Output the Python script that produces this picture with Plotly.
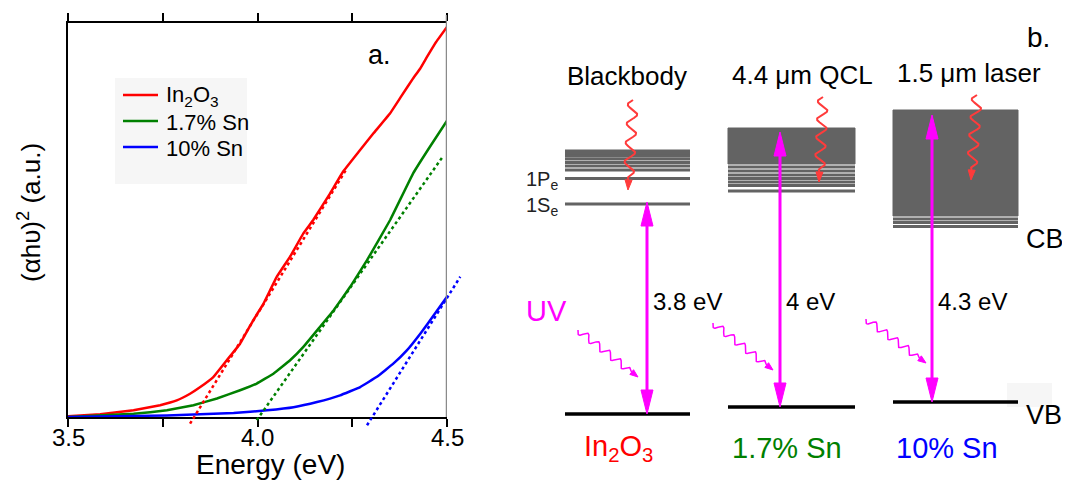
import numpy as np
import plotly.graph_objects as go

FONT = "Liberation Sans, Arial, sans-serif"
W, H = 1070, 480
OFF = 8  # page body margin offset of the plot div inside the browser window

# ---------------- Panel a data ----------------
energy_in2o3 = [3.50, 3.585, 3.673, 3.743, 3.787, 3.822, 3.849, 3.884, 3.919, 3.954, 3.989,
                4.016, 4.051, 4.086, 4.121, 4.147, 4.190, 4.226, 4.266, 4.306, 4.350,
                4.380, 4.411, 4.429, 4.446, 4.470, 4.5]
signal_in2o3 = [0.002, 0.007, 0.017, 0.030, 0.042, 0.059, 0.076, 0.102, 0.144, 0.186, 0.246,
                0.288, 0.356, 0.407, 0.466, 0.500, 0.565, 0.623, 0.672, 0.720, 0.771,
                0.815, 0.860, 0.884, 0.912, 0.950, 0.990]

energy_sn17 = [3.50, 3.673, 3.761, 3.831, 3.893, 3.954, 3.998, 4.042, 4.086, 4.121, 4.165,
               4.201, 4.245, 4.289, 4.350, 4.411, 4.455, 4.5]
signal_sn17 = [0.0, 0.008, 0.017, 0.030, 0.047, 0.068, 0.085, 0.110, 0.144, 0.178, 0.229,
               0.271, 0.331, 0.398, 0.500, 0.619, 0.686, 0.752]

energy_sn10 = [3.50, 3.761, 3.937, 4.025, 4.095, 4.157, 4.218, 4.271, 4.315, 4.359, 4.394,
               4.430, 4.465, 4.5]
signal_sn10 = [0.0, 0.004, 0.010, 0.017, 0.025, 0.038, 0.055, 0.076, 0.102, 0.136, 0.169,
               0.212, 0.258, 0.305]

# linear (Tauc) fits: end points
fit_energy_in2o3 = [3.822, 4.236]
fit_signal_in2o3 = [-0.017, 0.631]
fit_energy_sn17 = [3.998, 4.489]
fit_signal_sn17 = [-0.008, 0.661]
fit_energy_sn10 = [4.289, 4.535]
fit_signal_sn10 = [-0.021, 0.356]

series_names = ["In<sub>2</sub>O<sub>3</sub>", "1.7% Sn", "10% Sn"]
series_colors = ["#ff0000", "#008000", "#0000ff"]

x_tickvals = [3.5, 3.75, 4.0, 4.25, 4.5]
x_labelvals = [3.5, 4.0, 4.5]
x_labeltext = ["3.5", "4.0", "4.5"]

# ---------------- Panel b schematic data (window pixel units) ----------------
col_x0 = [565, 728, 893]
col_x1 = [690, 855, 1018]
vb_level = [414, 407, 402]
gap_arrow_x = [647, 780, 932]
gap_arrow_top = [202, 132, 115]
gap_labels = ["3.8 eV", "4 eV", "4.3 eV"]
sample_labels = ["In<sub>2</sub>O<sub>3</sub>", "1.7% Sn", "10% Sn"]
sample_label_x = [618, 787, 947]
source_labels = ["Blackbody", "4.4 \u03bcm QCL", "1.5 \u03bcm laser"]
source_label_x = [627, 802, 969]
source_label_y = [76, 75, 73]

cb_lines_in2o3 = [151, 153.5, 156, 159, 162.5, 166, 170, 178.5]
level_1se = 204
cb_box = [(128, 164), (110, 216)]          # filled continuum for col 2, 3
cb_lines_sn17 = [167, 171, 175, 178.5, 182, 185.5, 191]
cb_lines_sn10 = [219, 222.5, 226.5]

ir_start = [(633, 100), (823, 97), (977, 95)]
ir_end = [(628, 190), (819, 182), (971, 180)]
uv_start = [(578, 330), (713, 323), (866, 319)]
uv_end = [(638, 377), (773, 370), (926, 363)]

GRAY = "#636363"
MAG = "#ff00ff"
IRRED = "#ff3b3b"


def fx(p):
    return (p - OFF) / W


def fy(p):
    return 1 - (p - OFF) / H


fig = go.Figure()

# ---- panel a traces
energies = [energy_in2o3, energy_sn17, energy_sn10]
signals = [signal_in2o3, signal_sn17, signal_sn10]
fit_e = [fit_energy_in2o3, fit_energy_sn17, fit_energy_sn10]
fit_s = [fit_signal_in2o3, fit_signal_sn17, fit_signal_sn10]
for fe, fs, c in zip(fit_e, fit_s, series_colors):
    fig.add_trace(go.Scatter(x=fe, y=fs, mode="lines", xaxis="x3", yaxis="y3",
                             line=dict(color=c, width=2.5, dash="dot"),
                             showlegend=False, hoverinfo="skip"))
for e, s, n, c in zip(energies, signals, series_names, series_colors):
    fig.add_trace(go.Scatter(x=e, y=s, mode="lines", name=n, xaxis="x", yaxis="y",
                             showlegend=False,
                             line=dict(color=c, width=2.5, shape="spline", smoothing=0.2)))
# invisible trace on the top axis so it renders
fig.add_trace(go.Scatter(x=[3.5, 4.5], y=[0, 0], xaxis="x2", yaxis="y", mode="lines",
                         line=dict(width=0), showlegend=False, hoverinfo="skip"))


# ---- panel b helpers
def add_line(xs, ys, color, width):
    fig.add_trace(go.Scatter(x=xs, y=ys, mode="lines", xaxis="x4", yaxis="y4",
                             line=dict(color=color, width=width), showlegend=False,
                             hoverinfo="skip"))


def add_head(tip, base_from, length, width, color):
    tx, ty = tip
    dx, dy = tx - base_from[0], ty - base_from[1]
    L = np.hypot(dx, dy)
    ux, uy = dx / L, dy / L
    bx, by = tx - ux * length, ty - uy * length
    nx, ny = -uy, ux
    xs = [tx, bx + nx * width / 2, bx - nx * width / 2, tx]
    ys = [ty, by + ny * width / 2, by - ny * width / 2, ty]
    fig.add_trace(go.Scatter(x=xs, y=ys, mode="lines", fill="toself", fillcolor=color,
                             xaxis="x4", yaxis="y4", line=dict(color=color, width=1),
                             showlegend=False, hoverinfo="skip"))


def add_wavy(p0, p1, periods, amp, color, width, head_len, head_w):
    t = np.linspace(0, 1, 300)
    dx, dy = p1[0] - p0[0], p1[1] - p0[1]
    L = np.hypot(dx, dy)
    nx, ny = -dy / L, dx / L
    stop = 1 - head_len / L
    tt = t * stop
    env = np.clip((stop - tt) / 0.08, 0, 1)
    off = amp * np.sin(2 * np.pi * periods * tt / stop) * env
    xs = p0[0] + dx * tt + nx * off
    ys = p0[1] + dy * tt + ny * off
    add_line(list(xs), list(ys), color, width)
    add_head(p1, (p0[0], p0[1]), head_len, head_w, color)


# conduction band levels
for y in cb_lines_in2o3 + [level_1se]:
    add_line([col_x0[0], col_x1[0]], [y, y], GRAY, 3)
for (top, bot), i in zip(cb_box, [1, 2]):
    fig.add_trace(go.Scatter(x=[col_x0[i], col_x1[i], col_x1[i], col_x0[i], col_x0[i]],
                             y=[top, top, bot, bot, top], mode="lines", fill="toself",
                             fillcolor=GRAY, line=dict(color=GRAY, width=1),
                             xaxis="x4", yaxis="y4", showlegend=False, hoverinfo="skip"))
for y in cb_lines_sn17:
    add_line([col_x0[1], col_x1[1]], [y, y], GRAY, 3)
for y in cb_lines_sn10:
    add_line([col_x0[2], col_x1[2]], [y, y], GRAY, 3)

# valence band
for i in range(3):
    add_line([col_x0[i], col_x1[i]], [vb_level[i], vb_level[i]], "#000000", 3.5)

# gap arrows
for i in range(3):
    add_line([gap_arrow_x[i], gap_arrow_x[i]], [gap_arrow_top[i] + 5, vb_level[i] - 5], MAG, 3)
    add_head((gap_arrow_x[i], gap_arrow_top[i]), (gap_arrow_x[i], vb_level[i]), 24, 12, MAG)
    add_head((gap_arrow_x[i], vb_level[i]), (gap_arrow_x[i], gap_arrow_top[i]), 24, 12, MAG)

# IR wavy arrows
for p0, p1 in zip(ir_start, ir_end):
    add_wavy(p0, p1, 4.2, 5, IRRED, 2, 10, 7)
# UV wavy arrows
for p0, p1 in zip(uv_start, uv_end):
    add_wavy(p0, p1, 5, 3.5, MAG, 1.5, 8, 6)

# ---------------- layout ----------------
ax_l, ax_r = 68, 447
ax_t, ax_b = 23, 417
ppu_x = (ax_r - ax_l) / 1.0
ppu_y = (ax_b - ax_t) / 1.0
fit_r = 462
fit_b = 427
b_dom0 = 0.44

fig.update_layout(
    width=W, height=H, autosize=False,
    margin=dict(l=0, r=0, t=0, b=0, pad=0, autoexpand=False),
    paper_bgcolor="white", plot_bgcolor="rgba(0,0,0,0)",
    font=dict(family=FONT, color="black"),
    showlegend=False,
    xaxis=dict(domain=[fx(ax_l), fx(ax_r)], range=[3.5, 4.5], anchor="y",
               tickvals=x_tickvals, showticklabels=False, ticks="outside", ticklen=8,
               tickwidth=2, tickcolor="black", showline=True, linecolor="black",
               linewidth=2, showgrid=False, zeroline=False, automargin=False),
    xaxis2=dict(overlaying="x", side="top", range=[3.5, 4.5], anchor="y",
                tickvals=x_tickvals, ticks="outside", ticklen=8, tickwidth=2,
                tickcolor="black", showticklabels=False, showline=True,
                linecolor="black", linewidth=2, showgrid=False, zeroline=False,
                automargin=False),
    yaxis=dict(domain=[fy(ax_b), fy(ax_t)], range=[0, 1.0], anchor="x",
               showline=True, linecolor="black", linewidth=2, showticklabels=False,
               ticks="", showgrid=False, zeroline=False, automargin=False),
    xaxis3=dict(domain=[fx(ax_l), fx(fit_r)],
                range=[3.5, 3.5 + (fit_r - ax_l) / ppu_x], anchor="y3",
                visible=False, showgrid=False, zeroline=False, automargin=False),
    yaxis3=dict(domain=[fy(fit_b), fy(ax_t)],
                range=[-(fit_b - ax_b) / ppu_y, 1.0], anchor="x3",
                visible=False, showgrid=False, zeroline=False, automargin=False),
    xaxis4=dict(domain=[b_dom0, 1], range=[OFF + b_dom0 * W, OFF + W], anchor="y4",
                visible=False, showgrid=False, zeroline=False, automargin=False),
    yaxis4=dict(domain=[0, 1], range=[OFF + H, OFF], anchor="x4",
                visible=False, showgrid=False, zeroline=False, automargin=False),
)

shapes = []
# right gray frame line
shapes.append(dict(type="line", xref="x", yref="paper", x0=4.5, x1=4.5,
                   y0=fy(ax_b), y1=fy(15), line=dict(color="#8a8a8a", width=2.5)))
# legend box (manual)
leg_box = (115, 78, 247, 184)
leg_rows_y = [95, 121, 147]
shapes.append(dict(type="rect", xref="paper", yref="paper", x0=fx(leg_box[0]),
                   x1=fx(leg_box[2]), y0=fy(leg_box[3]), y1=fy(leg_box[1]),
                   fillcolor="#f6f6f6", line=dict(width=0), layer="below"))
for yy, c in zip(leg_rows_y, series_colors):
    shapes.append(dict(type="line", xref="paper", yref="paper", x0=fx(123), x1=fx(158),
                       y0=fy(yy), y1=fy(yy), line=dict(color=c, width=2.5)))
# faint artefact box near VB label
shapes.append(dict(type="rect", xref="x4", yref="y4", x0=1007, x1=1052, y0=383, y1=407,
                   fillcolor="#f6f6f6", line=dict(width=0), layer="below"))
fig.update_layout(shapes=shapes)


def pa(text, x, y, size, color="black", xanchor="center", angle=0):
    return dict(text=text, xref="paper", yref="paper", x=fx(x), y=fy(y),
                xanchor=xanchor, yanchor="middle", showarrow=False, textangle=angle,
                font=dict(size=size, color=color, family=FONT))


def pb(text, x, y, size, color="black", xanchor="center"):
    return dict(text=text, xref="x4", yref="y4", x=x, y=y, xanchor=xanchor,
                yanchor="middle", showarrow=False,
                font=dict(size=size, color=color, family=FONT))


ann = []
# panel a text
for v, t in zip(x_labelvals, x_labeltext):
    ann.append(dict(text=t, xref="x", yref="paper", x=v, y=fy(437), xanchor="center",
                    yanchor="middle", showarrow=False, font=dict(size=24, family=FONT)))
ann.append(pa("a.", 379, 55, 27))
ann.append(pa("Energy (eV)", 270, 464, 28))
ann.append(pa("(\u03b1h\u03c5)<sup>2</sup> (a.u.)", 30, 213, 26, angle=-90))
for yy, n in zip(leg_rows_y, series_names):
    ann.append(pa(n, 164, yy + 1, 22, xanchor="left"))
# panel b texts
for lab, x, y in zip(source_labels, source_label_x, source_label_y):
    ann.append(pb(lab, x, y, 26))
ann.append(pb("b.", 1038, 37, 28))
ann.append(pb("1P<sub>e</sub>", 560, 180, 20, "#222222", "right"))
ann.append(pb("1S<sub>e</sub>", 560, 206, 20, "#222222", "right"))
ann.append(pb("CB", 1024, 239, 27, xanchor="left"))
ann.append(pb("VB", 1024, 415, 27, xanchor="left"))
ann.append(pb("UV", 546, 311, 29, MAG))
for i in range(3):
    ann.append(pb(gap_labels[i], gap_arrow_x[i] + 4, 301, 24, xanchor="left"))
for i in range(3):
    ann.append(pb(sample_labels[i], sample_label_x[i], 448, 29, series_colors[i]))
fig.update_layout(annotations=ann)

fig.write_html("out.html")
